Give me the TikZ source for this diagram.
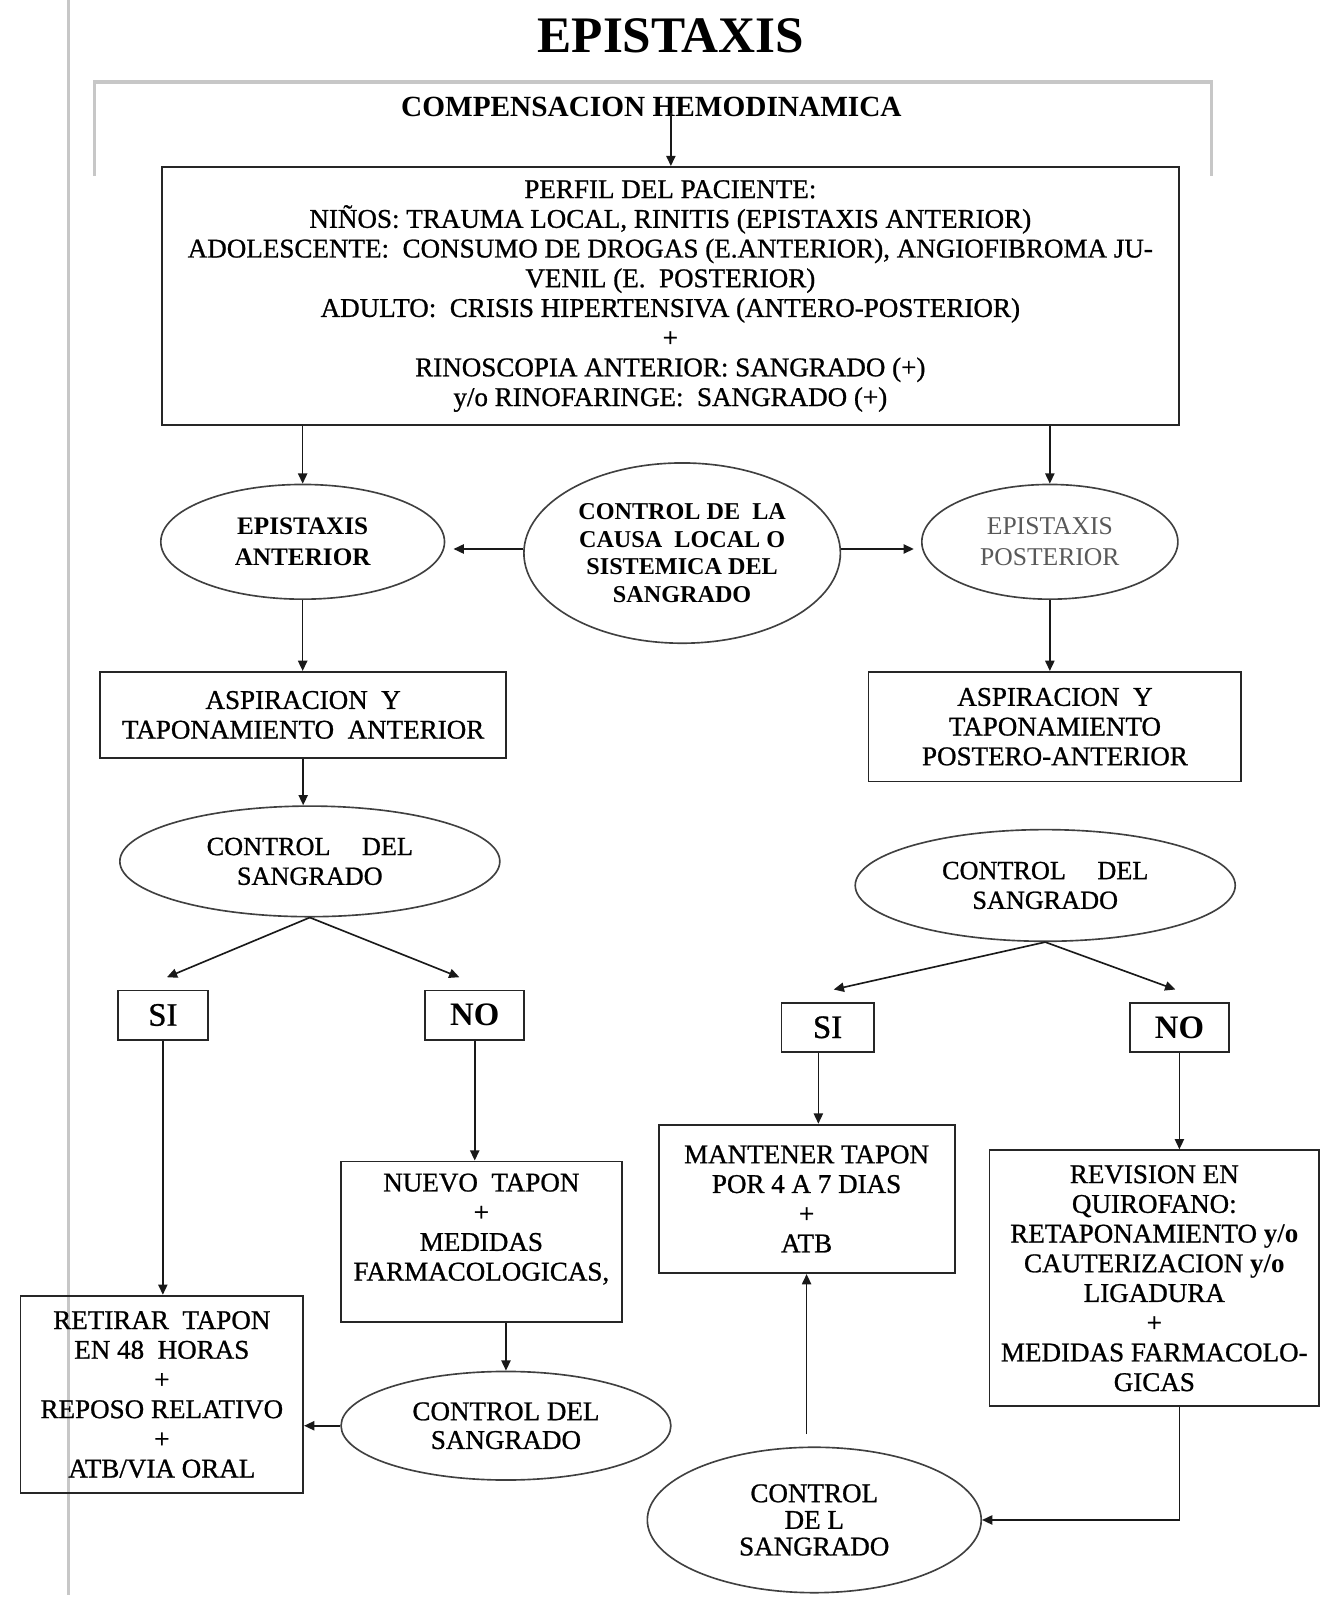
\documentclass[tikz,border=0pt]{standalone}
\usepackage{fontspec}
\setmainfont{Liberation Serif}
\newfontfamily\hv{Liberation Serif}[RawFeature={embolden=0.9}]
\usetikzlibrary{arrows.meta,calc,shapes.geometric}
\newcommand{\txtsz}{\hv\fontsize{13.2}{14.5}\selectfont}
\begin{document}
\begin{tikzpicture}[x=0.5pt,y=-0.5pt,
  box/.style={draw=black!85,line width=0.9pt,rectangle,inner sep=0pt,align=center,font=\txtsz},
  oval/.style={draw=black!75,line width=0.8pt,ellipse,inner sep=0pt,align=center,font=\txtsz},
  arr/.style={-{Triangle[length=5pt,width=4.5pt]},line width=0.8pt,draw=black!90},
  frame/.style={draw=black!22,line width=1.6pt}]
\useasboundingbox (0,0) rectangle (1302.5,1568);
% page decorations
\draw[frame] (67,0) -- (67,1557);
\draw[frame] (92,172) -- (92,80) -- (1183,80) -- (1183,172);
% titles
\node[font=\bfseries\fontsize{25}{28}\selectfont] (title) at (655,35) {EPISTAXIS};
\node[font=\bfseries\fontsize{14.3}{16}\selectfont] (comp) at (636,104) {COMPENSACION HEMODINAMICA};
\coordinate (c0) at (655,110);
% nodes
\node[box,minimum width=496.5pt,minimum height=126pt] (perfil) at (654.5,289)
 {PERFIL DEL PACIENTE:\\ NIÑOS: TRAUMA LOCAL, RINITIS (EPISTAXIS ANTERIOR)\\
  ADOLESCENTE:~ CONSUMO DE DROGAS (E.ANTERIOR), ANGIOFIBROMA JU-\\
  VENIL (E.~ POSTERIOR)\\ ADULTO:~ CRISIS HIPERTENSIVA (ANTERO-POSTERIOR)\\ +\\
  RINOSCOPIA ANTERIOR: SANGRADO (+)\\ y/o RINOFARINGE:~ SANGRADO (+)};
\node[oval,minimum width=138.5pt,minimum height=56pt,font=\bfseries\fontsize{12.3}{15}\selectfont] (antE) at (295.5,529) {EPISTAXIS\\ ANTERIOR};
\node[oval,minimum width=154.5pt,minimum height=88pt,font=\bfseries\fontsize{11.8}{13.5}\selectfont] (causa) at (666,540)
 {CONTROL DE~ LA\\ CAUSA~ LOCAL O\\ SISTEMICA DEL\\ SANGRADO};
\node[oval,minimum width=125pt,minimum height=56pt,font=\fontsize{12.5}{15}\selectfont,text=black!65] (posE) at (1025,529) {EPISTAXIS\\ POSTERIOR};
\node[box,minimum width=198pt,minimum height=42pt] (aspA) at (296,698) {ASPIRACION~ Y\\ TAPONAMIENTO~ ANTERIOR};
\node[box,minimum width=182pt,minimum height=53.5pt] (aspP) at (1030,709.5) {ASPIRACION~ Y\\ TAPONAMIENTO\\ POSTERO-ANTERIOR};
\node[oval,minimum width=185.5pt,minimum height=54pt,font=\hv\fontsize{12.8}{14.5}\selectfont] (ctlA) at (302.5,841) {CONTROL\hspace{1.2em}DEL\\ SANGRADO};
\node[oval,minimum width=185.5pt,minimum height=54.5pt,font=\hv\fontsize{12.8}{14.5}\selectfont] (ctlP) at (1020.5,864.5) {CONTROL\hspace{1.2em}DEL\\ SANGRADO};
\node[box,minimum width=44pt,minimum height=24pt,font=\hv\fontsize{16}{18}\selectfont] (siA) at (159,991) {SI};
\node[box,minimum width=48.5pt,minimum height=24pt,font=\bfseries\fontsize{16}{18}\selectfont] (noA) at (463.5,991) {NO};
\node[box,minimum width=45pt,minimum height=24pt,font=\hv\fontsize{16}{18}\selectfont] (siP) at (808,1003) {SI};
\node[box,minimum width=48.5pt,minimum height=24pt,font=\bfseries\fontsize{16}{18}\selectfont] (noP) at (1151.5,1003) {NO};
\node[box,minimum width=138pt,minimum height=96.5pt] (ret) at (158,1361.5)
 {RETIRAR~ TAPON\\ EN 48~ HORAS\\ +\\ REPOSO RELATIVO\\ +\\ ATB/VIA ORAL};
\node[box,minimum width=137pt,minimum height=78.5pt] (nuevo) at (470,1212.5)
 {NUEVO~ TAPON\\ +\\ MEDIDAS\\ FARMACOLOGICAS,\\ \mbox{}};
\node[box,minimum width=144.5pt,minimum height=72.5pt] (mant) at (787.5,1170.5)
 {MANTENER TAPON\\ POR 4 A 7 DIAS\\ +\\ ATB};
\node[box,minimum width=161pt,minimum height=125pt] (rev) at (1127,1248)
 {REVISION EN\\ QUIROFANO:\\ RETAPONAMIENTO {\rmfamily\bfseries y/o}\\ CAUTERIZACION {\rmfamily\bfseries y/o}\\ LIGADURA\\ +\\ MEDIDAS FARMACOLO-\\ GICAS};
\node[oval,minimum width=161pt,minimum height=53pt,font=\hv\fontsize{13.2}{14}\selectfont] (ctlB) at (494,1392) {CONTROL DEL\\ SANGRADO};
\node[oval,minimum width=163pt,minimum height=71pt,font=\hv\fontsize{13.2}{13}\selectfont] (ctlC) at (795,1484) {CONTROL\\ DE L\\ SANGRADO};
% connectors
\draw[arr] (c0) -- (c0 |- perfil.north);
\draw[arr] (perfil.south -| antE.north) -- (antE.north);
\draw[arr] (perfil.south -| posE.north) -- (posE.north);
\draw[arr,shorten >=4pt] ($(causa.west)+(0,-4)$) -- ($(causa.west -| antE.east)+(0,-4)$);
\draw[arr,shorten >=3.5pt] ($(causa.east)+(0,-4)$) -- ($(causa.east -| posE.west)+(0,-4)$);
\draw[arr] (antE.south) -- (antE.south |- aspA.north);
\draw[arr] (posE.south) -- (posE.south |- aspP.north);
\draw[arr] (aspA.south) -- (aspA.south |- ctlA.north);
\draw[arr] (ctlA.south) -- ($(siA.north)+(4,-12)$);
\draw[arr] (ctlA.south) -- ($(noA.north)+(-15,-12)$);
\draw[arr] (ctlP.south) -- ($(siP.north)+(6,-12)$);
\draw[arr] (ctlP.south) -- ($(noP.north)+(-4,-12)$);
\draw[arr] (siA.south) -- (siA.south |- ret.north);
\draw[arr] (noA.south) -- (noA.south |- nuevo.north);
\draw[arr] (ctlB.north |- nuevo.south) -- (ctlB.north);
\draw[arr] (ctlB.west) -- (ctlB.west -| ret.east);
\draw[arr] ($(siP.south)+(-9,0)$) -- ($(siP.south |- mant.north)+(-9,0)$);
\draw[arr] (noP.south) -- (noP.south |- rev.north);
\draw[arr,shorten <=6pt] (mant.south |- ctlC.north) -- (mant.south);
\draw[arr] (noP.south |- rev.south) |- (ctlC.east);
\end{tikzpicture}
\end{document}
